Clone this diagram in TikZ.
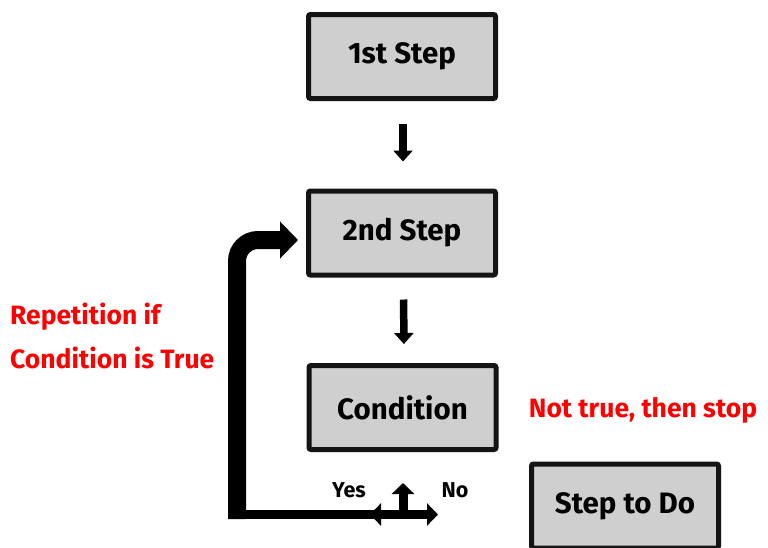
\documentclass[tikz,border=0pt]{standalone}
\usepackage{fontspec}
\setmainfont{Fira Sans}
\usetikzlibrary{arrows.meta}
\definecolor{boxfill}{HTML}{CFCFCF}
\definecolor{boxline}{HTML}{141414}
\definecolor{redtxt}{HTML}{FF0000}
\tikzset{
  stepbox/.style={draw=boxline, fill=boxfill, line width=5pt, rounded corners=2pt,
    minimum width=187pt, minimum height=84pt, inner sep=0pt,
    font=\fontsize{29.5}{34}\selectfont\bfseries},
  downarr/.style={line width=7.5pt, -{Triangle[width=19pt,length=11pt]}},
  thinarr/.style={line width=9pt, -{Triangle[width=22pt,length=11pt]}},
  redlabel/.style={text=redtxt, font=\fontsize{26.5}{41}\selectfont\bfseries, inner sep=0pt},
  yn/.style={font=\fontsize{21.5}{24}\selectfont\bfseries, inner sep=0pt}
}
\begin{document}
\begin{tikzpicture}[x=1pt,y=-1pt]
\useasboundingbox (0,0) rectangle (768,547);
\fill[white] (0,0) rectangle (768,547);

\node[stepbox] (s1) at (402,56.5) {1st Step};
\node[stepbox] (s2) at (402,233) {2nd Step};
\node[stepbox] (cond) at (402.5,407.5) {Condition};
\node[stepbox] (todo) at (625,506) {Step to Do};

\draw[downarr, shorten <=23pt, shorten >=27pt] ([xshift=1pt]s1.south) -- ([xshift=1pt]s2.north);
\draw[downarr, shorten <=22pt, shorten >=19pt] ([xshift=1.5pt]s2.south) -- ([xshift=1.5pt]cond.north);

% junction below the condition
\coordinate (j) at (403,514.5);
\coordinate (jl) at (228,514.5);
\coordinate (jr) at (438,514.5);
\coordinate (ju) at (403,483);
\coordinate (jlt) at (370,514.5);
\coordinate (vb) at (237,519);
\coordinate (vt) at (237,240);

\draw[line width=9pt] (jl) -- (j);
\draw[thinarr] (j) -- (jr);
\draw[thinarr] (j) -- (ju);
\draw[thinarr] ([xshift=18pt]jlt) -- (jlt);

% loop back arrow
\draw[line width=18pt, rounded corners=21pt, -{Triangle[width=36pt,length=18pt]}, shorten >=8pt]
  (vb) -- (vt) -- (vt -| s2.west);

\node[yn] (yes) at (349,490) {Yes};
\node[yn] (no) at (455,490) {No};

\node[redlabel, anchor=west] (rep1) at (10,317) {Repetition if};
\node[redlabel, anchor=west] (rep2) at (10,358) {Condition is True};
\node[redlabel] (stop) at (643,410) {Not true, then stop};
\end{tikzpicture}
\end{document}
